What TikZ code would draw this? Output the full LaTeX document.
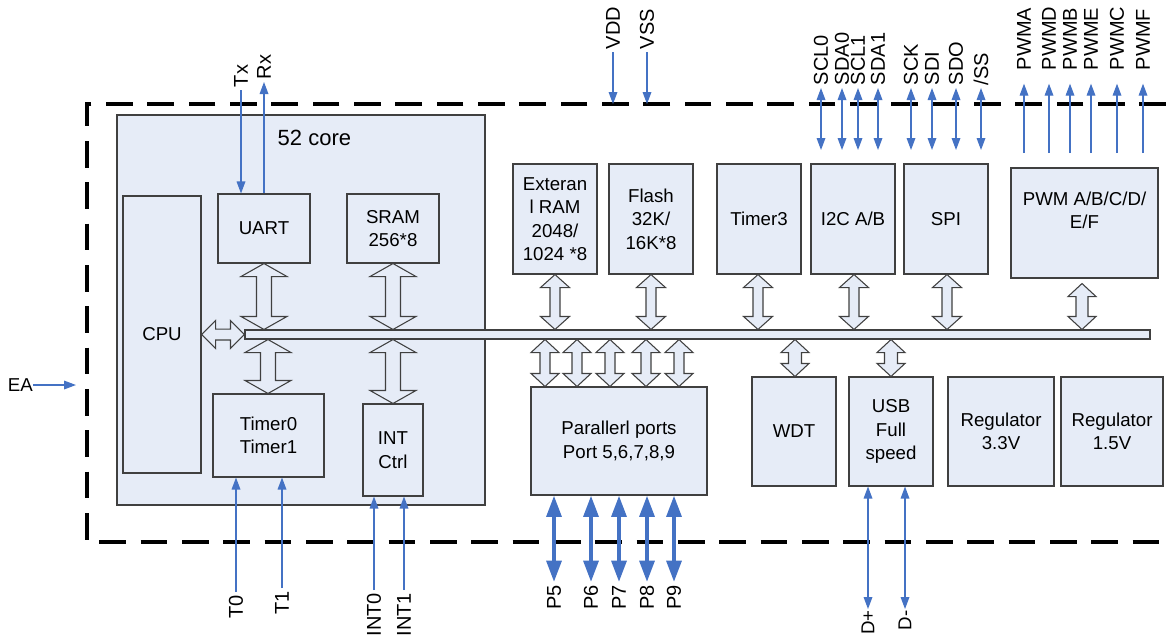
\documentclass[tikz,border=0pt]{standalone}
\usepackage{fontspec}
\setmainfont{Liberation Sans}
\usetikzlibrary{arrows.meta,calc}
\definecolor{blkfill}{RGB}{230,236,247}
\definecolor{sigblue}{RGB}{68,114,196}
\definecolor{boxedge}{RGB}{64,64,64}

% hollow bus arrow in column #1 (px) between two anchors; #4 head, #5 shaft half width (px)
\newcommand{\vbus}[5]{%
  \draw[busarrow] let \p1=(#2), \p2=(#3) in
    ({#1*0.75pt},\y1) -- ({(#1+#4)*0.75pt},{\y1-9.75pt}) -- ({(#1+#5)*0.75pt},{\y1-9.75pt})
    -- ({(#1+#5)*0.75pt},{\y2+9.75pt}) -- ({(#1+#4)*0.75pt},{\y2+9.75pt}) -- ({#1*0.75pt},\y2)
    -- ({(#1-#4)*0.75pt},{\y2+9.75pt}) -- ({(#1-#5)*0.75pt},{\y2+9.75pt})
    -- ({(#1-#5)*0.75pt},{\y1-9.75pt}) -- ({(#1-#4)*0.75pt},{\y1-9.75pt}) -- cycle;}

\begin{document}
\begin{tikzpicture}[x=0.75pt, y=-0.75pt, >={Triangle[length=9pt,width=6.5pt]},
  blk/.style={draw=boxedge, fill=blkfill, line width=0.8pt, align=center, inner sep=1pt,
    font=\fontsize{14}{17.5}\selectfont},
  sz/.style 2 args={minimum width=#1*0.75pt, minimum height=#2*0.75pt},
  busarrow/.style={draw=boxedge, fill=blkfill, line width=0.8pt},
  sig/.style={draw=sigblue, line width=0.9pt},
  portarrow/.style={draw=sigblue, line width=3pt,
    {Triangle[length=16pt,width=11pt]}-{Triangle[length=16pt,width=11pt]}},
  pinlbl/.style={rotate=90, inner xsep=2pt, inner ysep=0pt, font=\fontsize{15}{15}\selectfont},
  chipedge/.style={line width=3pt, dash pattern=on 20pt off 11pt}]
  \useasboundingbox (0,0) rectangle (1166,637);

  % chip outline
  \draw[chipedge] (1166,104) -- (87,104) -- (87,542) -- (1166,542);

  % 52 core
  \node[blk, sz={368}{390}] (core) at (301,310) {};
  \node[anchor=west, font=\fontsize{16.5}{20}\selectfont] (corelbl) at (273,138) {52 core};
  \node[blk, sz={78}{277}] (cpu) at (162,334.5) {CPU};
  \node[blk, sz={92}{69}] (uart) at (264,228.5) {UART};
  \node[blk, sz={92}{69}] (sram) at (393,228.5) {SRAM\\256*8};
  \node[blk, sz={111}{83}] (tmra) at (268.5,435.5) {Timer0\\Timer1};
  \node[blk, sz={60}{92}] (intc) at (393,450) {INT\\Ctrl};

  % peripherals
  \node[blk, sz={84}{110}] (eram) at (555,219) {Exteran\\l RAM\\2048/\\1024 *8};
  \node[blk, sz={84}{110}] (flash) at (651,219) {Flash\\32K/\\16K*8};
  \node[blk, sz={84}{110}] (tmrb) at (759,219) {Timer3};
  \node[blk, sz={84}{110}] (iic) at (853,219) {I2C A/B};
  \node[blk, sz={84}{110}] (spi) at (946,219) {SPI};
  \node[blk, sz={147}{110}] (pwm) at (1084.5,223) {};
  \node[align=center, font=\fontsize{14}{17.5}\selectfont] (pwmlbl) at (1084.5,210.5) {PWM A/B/C/D/\\E/F};
  \node[blk, sz={176}{108}] (par) at (619,441) {Parallerl ports\\Port 5,6,7,8,9};
  \node[blk, sz={84}{109}] (wdt) at (794,431.5) {WDT};
  \node[blk, sz={84}{109}] (usb) at (891,431.5) {USB\\Full\\speed};
  \node[blk, sz={106}{109}] (rega) at (1001,431.5) {Regulator\\3.3V};
  \node[blk, sz={102}{109}] (regb) at (1112,431.5) {Regulator\\1.5V};
  \node[blk, sz={905}{9}, inner sep=0pt] (bus) at (697.5,334.5) {};

  % bus arrows
  \vbus{264}{uart.south}{bus.north}{23}{7.5}
  \vbus{393}{sram.south}{bus.north}{23}{7.5}
  \vbus{268}{bus.south}{tmra.north}{23}{7.5}
  \vbus{393}{bus.south}{intc.north}{23}{7.5}
  \vbus{555}{eram.south}{bus.north}{14.5}{5}
  \vbus{651}{flash.south}{bus.north}{14.5}{5}
  \vbus{758}{tmrb.south}{bus.north}{14.5}{5}
  \vbus{854}{iic.south}{bus.north}{14.5}{5}
  \vbus{947}{spi.south}{bus.north}{14.5}{5}
  \vbus{1082}{[yshift=-3.75pt]pwm.south}{bus.north}{14}{6}
  \vbus{545}{bus.south}{par.north}{14}{5}
  \vbus{577}{bus.south}{par.north}{14}{5}
  \vbus{610}{bus.south}{par.north}{14}{5}
  \vbus{646}{bus.south}{par.north}{14}{5}
  \vbus{679}{bus.south}{par.north}{14}{5}
  \vbus{795}{bus.south}{wdt.north}{14}{6.5}
  \vbus{891}{bus.south}{usb.north}{14}{6.5}
  \draw[busarrow] let \p1=(cpu.east), \p2=(bus.west) in
    (\x1,\y1) -- ({\x1+10.5pt},{\y1+10.5pt}) -- ({\x1+10.5pt},{\y1+4.1pt})
    -- ({\x2-10.5pt},{\y1+4.1pt}) -- ({\x2-10.5pt},{\y1+10.5pt}) -- (\x2,\y1)
    -- ({\x2-10.5pt},{\y1-10.5pt}) -- ({\x2-10.5pt},{\y1-4.1pt})
    -- ({\x1+10.5pt},{\y1-4.1pt}) -- ({\x1+10.5pt},{\y1-10.5pt}) -- cycle;

  % pins
  \node[pinlbl, anchor=west] (tx) at (241,90) {Tx};
  \node[pinlbl, anchor=west] (rx) at (264,82) {Rx};
  \draw[sig,->] (tx) -- (uart.north -| tx);
  \draw[sig,->] (uart.north -| rx) -- (rx);
  \node[pinlbl, anchor=west] (vdd) at (613,52) {VDD};
  \node[pinlbl, anchor=west] (vss) at (647,52) {VSS};
  \coordinate (vdd-in) at (613,104);
  \coordinate (vss-in) at (647,104);
  \draw[sig,->] (vdd) -- (vdd-in);
  \draw[sig,->] (vss) -- (vss-in);
  \foreach \x/\t/\n in {821/SCL0/scla, 842/SDA0/sdaa, 858/SCL1/sclb, 878/SDA1/sdab,
      911/SCK/sck, 932/SDI/sdi, 956/SDO/sdo, 981/{/SS}/ss} {
    \node[pinlbl, anchor=west] (\n) at (\x,88) {\t};
    \coordinate (\n-in) at (\x,150);
    \draw[sig,<->] (\n) -- (\n-in);
  }
  \foreach \x/\t in {1024/PWMA, 1049/PWMD, 1070/PWMB, 1091/PWME, 1117/PWMC, 1143/PWMF} {
    \node[pinlbl, anchor=west] (\t) at (\x,73) {\t};
    \coordinate (\t-in) at (\x,153);
    \draw[sig,->,shorten >=8pt] (\t-in) -- (\t);
  }
  \node[anchor=east, inner sep=0pt, font=\fontsize{14}{14}\selectfont] (ea) at (33,385) {EA};
  \coordinate (ea-in) at (76,385);
  \draw[sig,->] (ea) -- (ea-in);

  \node[pinlbl, anchor=east] (t0) at (236,592) {T0};
  \node[pinlbl, anchor=east] (t1) at (282,588) {T1};
  \node[pinlbl, anchor=east] (int0) at (374,590) {INT0};
  \node[pinlbl, anchor=east] (int1) at (404,590) {INT1};
  \draw[sig,->] (t0) -- (tmra.south -| t0);
  \draw[sig,->] (t1) -- (tmra.south -| t1);
  \draw[sig,->] (int0) -- (intc.south -| int0);
  \draw[sig,->] (int1) -- (intc.south -| int1);
  \foreach \x/\t in {554/P5, 591/P6, 619/P7, 647/P8, 674/P9} {
    \node[pinlbl, anchor=east] (\t) at (\x,582) {\t};
    \draw[portarrow] (par.south -| \t) -- (\t);
  }
  \node[pinlbl, anchor=east, inner xsep=1pt, font=\fontsize{14}{14}\selectfont] (dp) at (868,609) {D+};
  \node[pinlbl, anchor=east, inner xsep=1pt, font=\fontsize{14}{14}\selectfont] (dm) at (905,609) {D-};
  \draw[sig,<->] (usb.south -| dp) -- (dp);
  \draw[sig,<->] (usb.south -| dm) -- (dm);
\end{tikzpicture}
\end{document}
